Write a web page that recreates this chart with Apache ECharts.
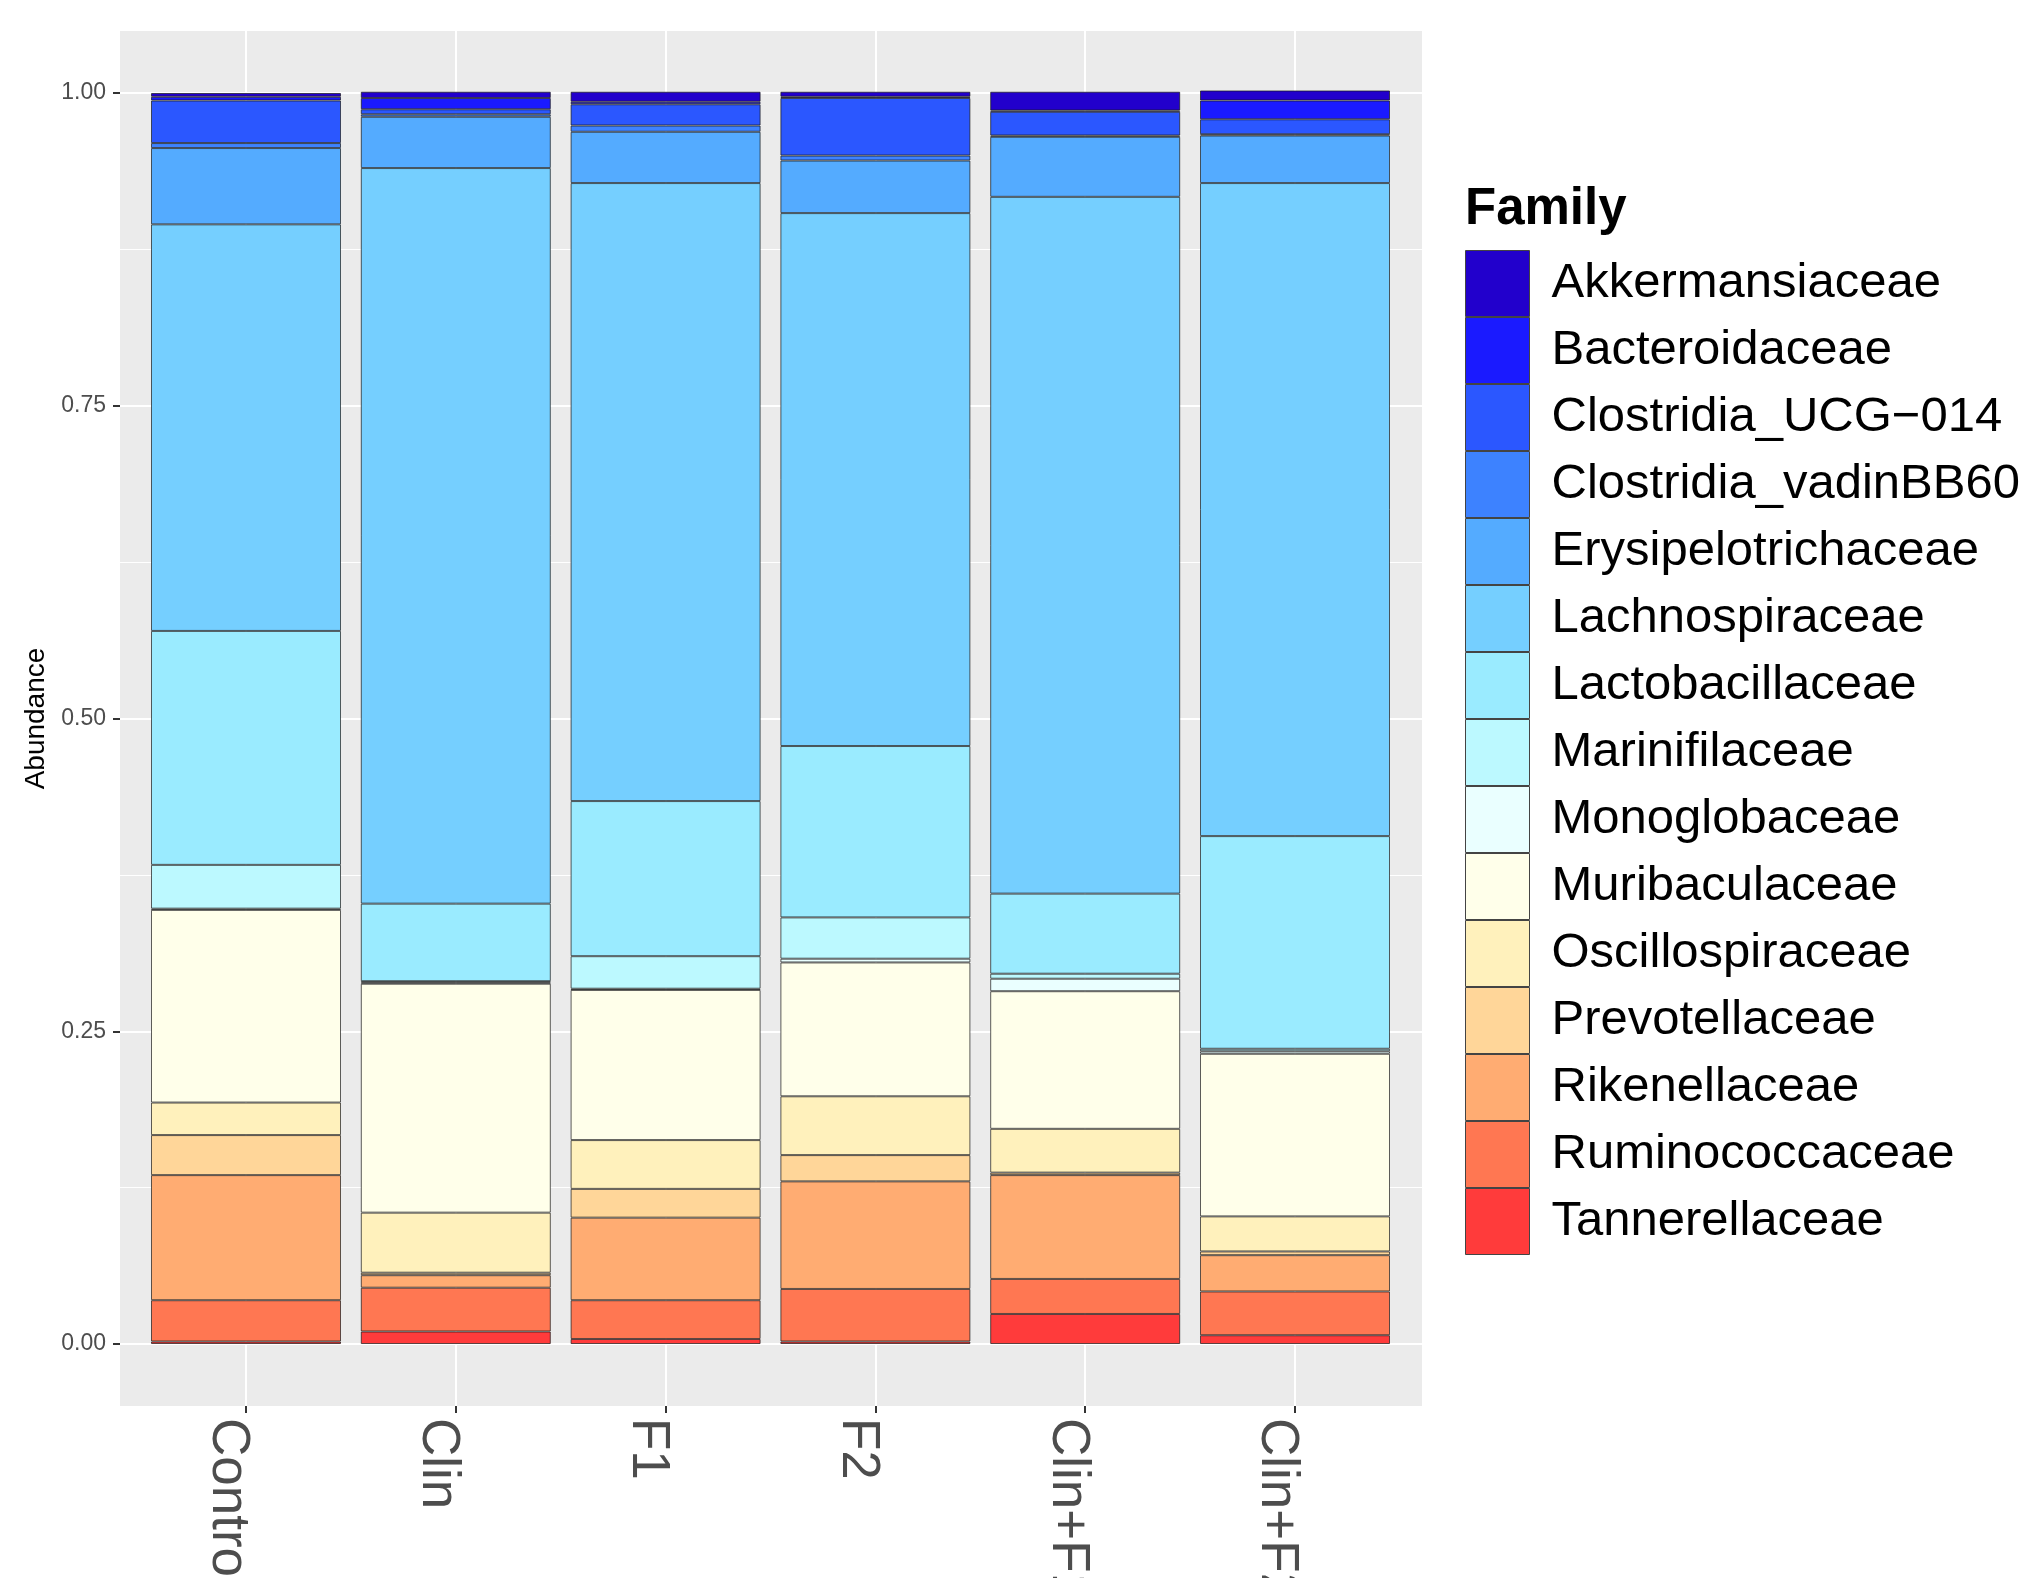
<!DOCTYPE html>
<html>
<head>
<meta charset="utf-8">
<script src="https://cdn.jsdelivr.net/npm/echarts@6/dist/echarts.min.js"></script>
<style>
html,body{margin:0;padding:0;background:#fff;}
#chart{width:2023px;height:1578px;}
</style>
</head>
<body>
<div id="chart"></div>
<script>
// Sample groups (x categories)
const groups = ['Control', 'Clin', 'F1', 'F2', 'Clin+F1', 'Clin+F2'];

// Families in legend order (top of stack first)
const families = ['Akkermansiaceae', 'Bacteroidaceae', 'Clostridia_UCG\u2212014', 'Clostridia_vadinBB60',
  'Erysipelotrichaceae', 'Lachnospiraceae', 'Lactobacillaceae', 'Marinifilaceae', 'Monoglobaceae',
  'Muribaculaceae', 'Oscillospiraceae', 'Prevotellaceae', 'Rikenellaceae', 'Ruminococcaceae', 'Tannerellaceae'];

const familyColors = ['#2200CC', '#1A1AFF', '#2B57FF', '#3D82FF', '#54ABFF', '#75CFFF', '#9AEBFF',
  '#BCF9FF', '#EAFFFF', '#FFFFEA', '#FFF1BC', '#FFD699', '#FFAC72', '#FF7752', '#FF3B3B'];

// Relative abundance per family (Control, Clin, F1, F2, Clin+F1, Clin+F2)
const akkermansiaceae     = [0.003, 0.005, 0.008, 0.004, 0.015, 0.008];
const bacteroidaceae      = [0.003, 0.009, 0.002, 0.001, 0.001, 0.015];
const clostridiaUCG014    = [0.034, 0.004, 0.017, 0.046, 0.019, 0.012];
const clostridiaVadinBB60 = [0.004, 0.002, 0.005, 0.004, 0.001, 0.001];
const erysipelotrichaceae = [0.061, 0.041, 0.041, 0.042, 0.048, 0.038];
const lachnospiraceae     = [0.325, 0.588, 0.494, 0.426, 0.557, 0.522];
const lactobacillaceae    = [0.187, 0.062, 0.124, 0.137, 0.064, 0.170];
const marinifilaceae      = [0.035, 0.001, 0.026, 0.033, 0.004, 0.002];
const monoglobaceae       = [0.001, 0.001, 0.001, 0.003, 0.010, 0.002];
const muribaculaceae      = [0.154, 0.183, 0.120, 0.107, 0.110, 0.130];
const oscillospiraceae    = [0.026, 0.048, 0.039, 0.047, 0.035, 0.028];
const prevotellaceae      = [0.032, 0.002, 0.023, 0.021, 0.002, 0.003];
const rikenellaceae       = [0.100, 0.010, 0.066, 0.086, 0.083, 0.029];
const ruminococcaceae     = [0.033, 0.035, 0.031, 0.042, 0.028, 0.035];
const tannerellaceae      = [0.002, 0.010, 0.004, 0.002, 0.024, 0.007];

const familyValues = [akkermansiaceae, bacteroidaceae, clostridiaUCG014, clostridiaVadinBB60,
  erysipelotrichaceae, lachnospiraceae, lactobacillaceae, marinifilaceae, monoglobaceae,
  muribaculaceae, oscillospiraceae, prevotellaceae, rikenellaceae, ruminococcaceae, tannerellaceae];

const yTicks = [0, 0.25, 0.5, 0.75, 1];

const FONT = '"Liberation Sans", Arial, Helvetica, sans-serif';

// Build series bottom-up (Tannerellaceae first so it sits at the bottom of the stack)
const series = [];
for (let i = families.length - 1; i >= 0; i--) {
  series.push({
    name: families[i],
    type: 'bar',
    stack: 'total',
    xAxisIndex: 3,
    yAxisIndex: 3,
    barWidth: 190,
    clip: false,
    data: familyValues[i],
    itemStyle: { color: familyColors[i], borderColor: 'rgba(25,25,25,0.7)', borderWidth: 1 },
    emphasis: { disabled: true }
  });
}

const chart = echarts.init(document.getElementById('chart'), null, { renderer: 'canvas' });
chart.setOption({
  animation: false,
  backgroundColor: '#ffffff',
  textStyle: { fontFamily: FONT },
  title: {
    text: 'Family',
    left: 1465,
    top: 184,
    padding: 0,
    textStyle: { fontSize: 51, fontWeight: 'bold', color: '#000', fontFamily: FONT }
  },
  legend: {
    data: families,
    orient: 'vertical',
    left: 1465,
    top: 250,
    padding: 0,
    itemWidth: 64,
    itemHeight: 66,
    itemGap: 0,
    icon: 'rect',
    selectedMode: false,
    itemStyle: { borderColor: '#444', borderWidth: 1 },
    textStyle: { fontSize: 49, color: '#000', fontFamily: FONT, padding: [0, 0, 0, 17] }
  },
  grid: [
    { left: 120, top: 31, width: 1302, height: 1375, show: true, backgroundColor: '#EBEBEB', borderWidth: 0, z: 0, containLabel: false, outerBoundsMode: 'none' },
    { left: 120, top: 93, width: 1302, height: 1251, containLabel: false, outerBoundsMode: 'none' },
    { left: 246, top: 31, width: 1049, height: 1375, containLabel: false, outerBoundsMode: 'none' },
    { left: 246, top: 93, width: 1049, height: 1251, containLabel: false, outerBoundsMode: 'none' }
  ],
  xAxis: [
    { gridIndex: 0, type: 'value', show: false },
    { gridIndex: 1, type: 'value', show: false },
    {
      gridIndex: 2, type: 'category', data: groups, boundaryGap: false, z: 1,
      axisLine: { show: false },
      axisTick: { show: true, length: 7, lineStyle: { color: '#333', width: 2 } },
      axisLabel: { rotate: -90, fontSize: 53, lineHeight: 36, verticalAlign: 'top', color: '#4D4D4D', margin: 12, fontFamily: FONT },
      splitLine: { show: true, lineStyle: { color: '#ffffff', width: 2 } }
    },
    { gridIndex: 3, type: 'category', data: groups, boundaryGap: false, show: false }
  ],
  yAxis: [
    { gridIndex: 0, type: 'value', show: false },
    {
      gridIndex: 1, type: 'value', min: yTicks[0], max: yTicks[yTicks.length - 1], interval: 0.25, z: 1,
      axisLine: { show: false },
      axisTick: { show: true, length: 7, lineStyle: { color: '#333', width: 2 } },
      axisLabel: { formatter: v => v.toFixed(2), fontSize: 23, color: '#4D4D4D', margin: 14, fontFamily: FONT },
      splitLine: { show: true, lineStyle: { color: '#ffffff', width: 2 } },
      minorTick: { show: false, splitNumber: 2 },
      minorSplitLine: { show: true, lineStyle: { color: '#ffffff', width: 1 } },
      name: 'Abundance',
      nameLocation: 'middle',
      nameGap: 62,
      nameTextStyle: { fontSize: 28, color: '#000', fontFamily: FONT }
    },
    { gridIndex: 2, type: 'value', show: false },
    { gridIndex: 3, type: 'value', min: 0, max: 1, show: false }
  ],
  series: series
});
</script>
</body>
</html>
